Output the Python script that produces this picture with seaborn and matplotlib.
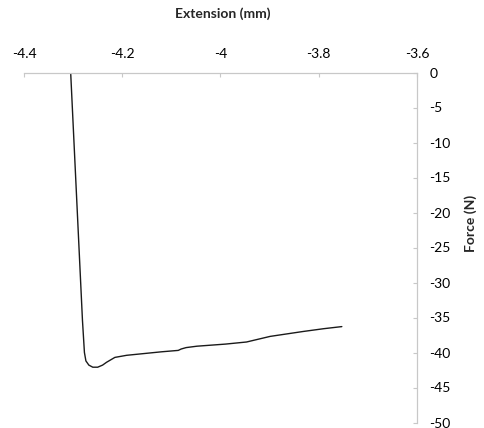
import pandas as pd
import matplotlib
matplotlib.use("Agg")
import matplotlib.pyplot as plt
import seaborn as sns

# values (extension in mm, force in N)
extension = [-4.305, -4.281, -4.277, -4.274, -4.268, -4.260, -4.250, -4.240,
             -4.232, -4.215, -4.191, -4.120, -4.086, -4.080, -4.070, -4.048,
             -3.990, -3.947, -3.899, -3.832, -3.790, -3.753]
force = [0.0, -35.4, -40.0, -41.2, -41.8, -42.1, -42.1, -41.8,
         -41.4, -40.7, -40.4, -39.9, -39.7, -39.5, -39.3, -39.1,
         -38.8, -38.5, -37.7, -37.0, -36.6, -36.3]
x_ticks = [-4.4, -4.2, -4.0, -3.8, -3.6]
x_tick_labels = ["-4.4", "-4.2", "-4", "-3.8", "-3.6"]
y_ticks = list(range(0, -55, -5))

df = pd.DataFrame({"extension": extension, "force": force})

sns.set_theme(style="white")
plt.rcParams["font.family"] = ["Lato", "DejaVu Sans"]

fig = plt.figure(figsize=(4.84, 4.28), dpi=100)
ax = fig.add_axes([24 / 484, 1 - 422.5 / 428, 393 / 484, 350 / 428])

sns.lineplot(data=df, x="extension", y="force", ax=ax, color="#1a1a1a",
             linewidth=1.0, sort=False, estimator=None)

axis_grey = "#c8c8c8"
ax.set_xlim(-4.4, -3.6)
ax.set_ylim(-50, 0)
ax.xaxis.tick_top()
ax.yaxis.tick_right()
ax.set_xticks(x_ticks)
ax.set_xticklabels(x_tick_labels)
ax.set_yticks(y_ticks)
ax.set_yticklabels([str(v) for v in y_ticks])
ax.tick_params(axis="both", direction="in", length=3, width=0.8,
               color=axis_grey, labelsize=10, labelcolor="black", pad=9)
ax.tick_params(axis="x", top=True, bottom=False)
ax.tick_params(axis="y", right=True, left=False)

for side in ["left", "bottom"]:
    ax.spines[side].set_visible(False)
for side in ["top", "right"]:
    ax.spines[side].set_visible(True)
    ax.spines[side].set_color(axis_grey)
    ax.spines[side].set_linewidth(0.9)

ax.set_xlabel("Extension (mm)", fontsize=10, fontweight="bold", va="center")
ax.xaxis.set_label_position("top")
ax.xaxis.set_label_coords(0.505, 1.156)
ax.set_ylabel("Force (N)", fontsize=10, fontweight="bold", va="center",
              ha="center", rotation=90)
ax.yaxis.set_label_position("right")
ax.yaxis.set_label_coords(1.12, 0.57)

fig.savefig("out.png", dpi=100, facecolor="white")
